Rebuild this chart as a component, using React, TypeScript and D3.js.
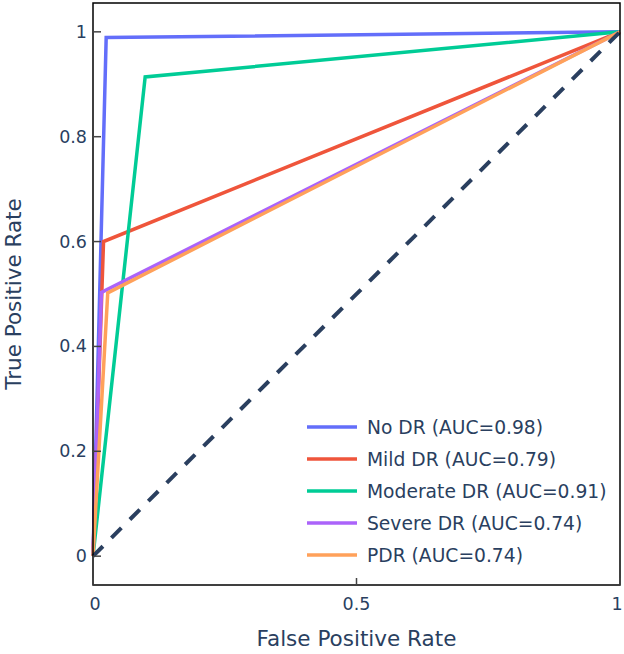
import * as d3 from 'd3';

// ROC curves per class
const classNames = ['No DR', 'Mild DR', 'Moderate DR', 'Severe DR', 'PDR'];
const aucValues = [0.98, 0.79, 0.91, 0.74, 0.74];
const fprValues = [
  [0, 0.025, 1],
  [0, 0.02, 1],
  [0, 0.099, 1],
  [0, 0.016, 1],
  [0, 0.028, 1],
];
const tprValues = [
  [0, 0.989, 1],
  [0, 0.6, 1],
  [0, 0.914, 1],
  [0, 0.503, 1],
  [0, 0.502, 1],
];
const colors = ['#636EFA', '#EF553B', '#00CC96', '#AB63FA', '#FFA15A'];
const xTicks = [0, 0.5, 1];
const yTicks = [0, 0.2, 0.4, 0.6, 0.8, 1];

const width = 624;
const height = 654;
const plot = { left: 93, right: 620, top: 3, bottom: 585 };
const textColor = '#2a3f5f';
const font = '"DejaVu Sans", Verdana, sans-serif';

export default function App() {
  const xScale = d3.scaleLinear().domain([0, 1]).range([plot.left, plot.right]);
  const yScale = d3.scaleLinear().domain([-0.055, 1.055]).range([plot.bottom, plot.top]);

  const line = d3
    .line<[number, number]>()
    .x(d => xScale(d[0]))
    .y(d => yScale(d[1]));

  const legendX = 307;
  const legendY = 427;
  const legendStep = 32;

  return (
    <svg
      width={width}
      height={height}
      style={{ position: 'absolute', left: 0, top: 0, background: '#fff' }}
      fontFamily={font}
    >
      {/* curves */}
      {classNames.map((name, i) => (
        <path
          key={name}
          d={line(fprValues[i].map((f, j) => [f, tprValues[i][j]] as [number, number])) || ''}
          fill="none"
          stroke={colors[i]}
          strokeWidth={3.5}
          strokeLinejoin="miter"
        />
      ))}

      {/* chance diagonal */}
      <line
        x1={xScale(0)}
        y1={yScale(0)}
        x2={xScale(1)}
        y2={yScale(1)}
        stroke={textColor}
        strokeWidth={4}
        strokeDasharray="14,12"
      />

      {/* frame */}
      <rect
        x={plot.left}
        y={plot.top}
        width={plot.right - plot.left}
        height={plot.bottom - plot.top}
        fill="none"
        stroke="#000"
        strokeWidth={1.5}
      />

      {/* y axis */}
      {yTicks.map(t => (
        <g key={t}>
          <line x1={plot.left} x2={plot.left + 8} y1={yScale(t)} y2={yScale(t)} stroke="#444" strokeWidth={1.5} />
          <text
            x={plot.left - 6}
            y={yScale(t)}
            textAnchor="end"
            dominantBaseline="central"
            fontSize={17.5}
            fill={textColor}
          >
            {t}
          </text>
        </g>
      ))}

      {/* x axis */}
      {xTicks.map((t, i) => (
        <g key={t}>
          <line x1={xScale(t)} x2={xScale(t)} y1={plot.bottom} y2={plot.bottom - 7} stroke="#444" strokeWidth={1.5} />
          <text
            x={i === xTicks.length - 1 ? xScale(t) - 3 : xScale(t) + (i === 0 ? 2 : 0)}
            y={610}
            textAnchor="middle"
            fontSize={17.5}
            fill={textColor}
          >
            {t}
          </text>
        </g>
      ))}

      <text
        x={(plot.left + plot.right) / 2}
        y={646}
        textAnchor="middle"
        fontSize={21.5}
        fill={textColor}
      >
        False Positive Rate
      </text>
      <text
        transform={`translate(21, ${(plot.top + plot.bottom) / 2}) rotate(-90)`}
        textAnchor="middle"
        fontSize={21.5}
        fill={textColor}
      >
        True Positive Rate
      </text>

      {/* legend */}
      {classNames.map((name, i) => (
        <g key={name} transform={`translate(${legendX}, ${legendY + i * legendStep})`}>
          <line x1={0} x2={50} y1={0} y2={0} stroke={colors[i]} strokeWidth={3.5} />
          <text x={60} y={0} dominantBaseline="central" fontSize={18.7} fill={textColor}>
            {`${name} (AUC=${aucValues[i].toFixed(2)})`}
          </text>
        </g>
      ))}
    </svg>
  );
}
